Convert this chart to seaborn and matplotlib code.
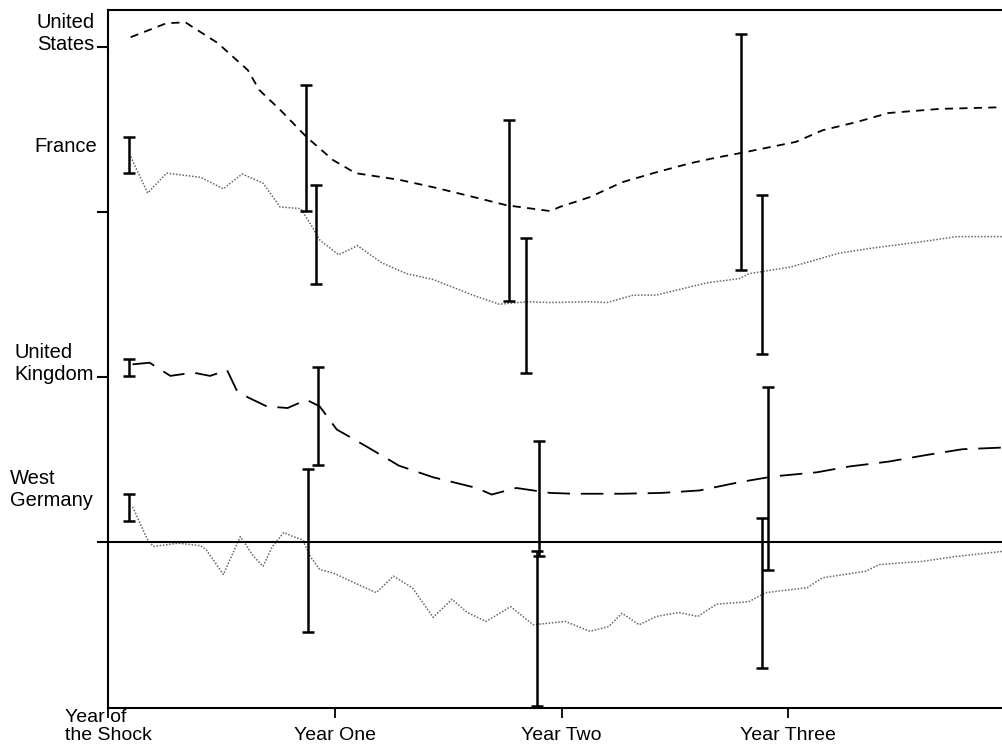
import pandas as pd
import seaborn as sns
import matplotlib
matplotlib.use('Agg')
import matplotlib.pyplot as plt

# months after the shock, deviation from each country's own baseline
us_months = [1.2, 3.1, 4.1, 4.5, 5.8, 7.4, 8.0, 9.1, 10.5, 11.9, 13.1, 15.4, 17.2, 19.0, 21.1,
             23.4, 23.9, 25.5, 27.2, 29.0, 30.8, 32.0, 33.6, 36.4, 37.8, 39.6, 41.3, 44.0, 47.3]
us_values = [0.6, 1.45, 1.5, 1.2, 0.25, -1.4, -2.6, -3.8, -5.45, -6.85, -7.65, -8.05, -8.5, -9.0, -9.6,
             -9.95, -9.7, -9.1, -8.2, -7.6, -7.05, -6.75, -6.4, -5.75, -5.05, -4.55, -4.0, -3.75, -3.65]

fr_months = [1.2, 2.1, 3.1, 4.9, 6.1, 7.1, 8.2, 9.1, 10.2, 10.8, 11.2, 12.2, 13.2, 14.5, 15.8,
             17.2, 19.3, 20.7, 22.2, 23.4, 25.5, 26.4, 27.8, 29.0, 31.7, 33.4, 33.9, 36.1, 38.7,
             40.4, 43.1, 44.9, 47.3]
fr_values = [3.35, 1.15, 2.35, 2.1, 1.4, 2.3, 1.75, 0.3, 0.2, -0.9, -1.7, -2.6, -2.05, -3.1, -3.75,
             -4.1, -5.05, -5.6, -5.45, -5.5, -5.45, -5.5, -5.05, -5.05, -4.3, -4.05, -3.75, -3.35, -2.5,
             -2.2, -1.8, -1.5, -1.5]

uk_months = [1.3, 2.2, 3.3, 4.5, 5.4, 6.3, 6.8, 7.4, 8.4, 9.5, 10.5, 11.2, 12.1, 13.7, 15.4,
             17.2, 19.5, 20.3, 21.6, 23.4, 24.6, 27.2, 29.3, 31.3, 33.4, 35.2, 37.5, 39.2, 41.3,
             43.3, 45.2, 47.3]
uk_values = [0.75, 0.85, 0.05, 0.25, 0.05, 0.4, -0.8, -1.25, -1.8, -1.9, -1.4, -1.8, -3.2, -4.25, -5.4,
             -6.1, -6.75, -7.15, -6.75, -7.05, -7.1, -7.1, -7.05, -6.9, -6.4, -6.05, -5.8, -5.45, -5.15,
             -4.75, -4.4, -4.3]

wg_months = [1.3, 2.1, 2.4, 3.7, 4.9, 5.2, 6.1, 7.0, 7.7, 8.2, 8.7, 9.3, 9.8, 10.3, 10.7,
             11.2, 11.9, 13.5, 14.2, 15.1, 16.1, 17.2, 18.2, 19.0, 20.0, 21.3, 22.5, 24.2, 25.5,
             26.5, 27.2, 28.1, 29.0, 30.2, 31.2, 32.2, 33.9, 34.8, 37.0, 37.8, 40.1, 40.8, 43.1,
             44.9, 47.3]
wg_values = [2.1, 0.1, -0.3, -0.1, -0.25, -0.5, -2.0, 0.3, -0.9, -1.5, -0.3, 0.55, 0.3, 0.1, -0.9,
             -1.7, -1.9, -2.75, -3.1, -2.1, -2.8, -4.6, -3.5, -4.3, -4.85, -3.95, -5.05, -4.85, -5.45,
             -5.15, -4.35, -5.05, -4.55, -4.3, -4.55, -3.8, -3.65, -3.1, -2.8, -2.2, -1.8, -1.4, -1.2,
             -0.9, -0.6]

# error bars: month, low, high
us_bar_months = [10.5, 21.2, 33.5]
us_bar_low = [-9.95, -15.4, -13.5]
us_bar_high = [-2.3, -4.4, 0.8]
fr_bar_months = [1.1, 11.0, 22.1, 34.6]
fr_bar_low = [2.35, -4.4, -9.8, -8.6]
fr_bar_high = [4.55, 1.65, -1.6, 1.05]
uk_bar_months = [1.1, 11.1, 22.8, 34.9]
uk_bar_low = [0.05, -5.35, -10.9, -11.75]
uk_bar_high = [1.05, 0.6, -3.9, -0.6]
wg_bar_months = [1.1, 10.6, 22.7, 34.6]
wg_bar_low = [1.25, -5.5, -10.0, -7.7]
wg_bar_high = [2.9, 4.4, -0.55, 1.4]

countries = ['United States', 'France', 'United Kingdom', 'West Germany']
offsets = [30, 20, 10, 0]
country_labels = ['United\nStates', 'France', 'United\nKingdom', 'West\nGermany']
year_ticks = [0, 12, 24, 36]
year_labels = ['Year of\nthe Shock', 'Year One', 'Year Two', 'Year Three']

sns.set_style('white')
plt.rcParams['font.family'] = ['Liberation Sans', 'DejaVu Sans']
plt.rcParams['text.color'] = 'black'
plt.rcParams['xtick.color'] = 'black'
plt.rcParams['ytick.color'] = 'black'

fig = plt.figure(figsize=(10.02, 7.46), dpi=100)
ax = fig.add_axes([108/1002, 1 - 708/746, 1 - 108/1002, (708 - 10)/746])

series = [(us_months, us_values), (fr_months, fr_values), (uk_months, uk_values), (wg_months, wg_values)]
bars = [(us_bar_months, us_bar_low, us_bar_high), (fr_bar_months, fr_bar_low, fr_bar_high),
        (uk_bar_months, uk_bar_low, uk_bar_high), (wg_bar_months, wg_bar_low, wg_bar_high)]
styles = [dict(color='black', lw=1.3, linestyle=(0, (4.5, 3.5))),
          dict(color='0.4', lw=1.1, linestyle=(0, (1, 1.1))),
          dict(color='black', lw=1.3, linestyle=(0, (12.5, 6))),
          dict(color='0.4', lw=1.1, linestyle=(0, (1, 1.1)))]

for name, off, (m, v), st in zip(countries, offsets, series, styles):
    df = pd.DataFrame({'month': m, 'level': [val + off for val in v]})
    sns.lineplot(data=df, x='month', y='level', ax=ax, estimator=None, **st)

for off, (bm, lo, hi) in zip(offsets, bars):
    centre = [(a + b) / 2 + off for a, b in zip(lo, hi)]
    half = [(b - a) / 2 for a, b in zip(lo, hi)]
    ax.errorbar(bm, centre, yerr=half, fmt='none', ecolor='black', elinewidth=1.8,
                capsize=4.5, capthick=1.8)

ax.axhline(0, color='black', lw=1.5)

ax.set_xlim(0, 47.3)
ax.set_ylim(-10.1, 32.25)
ax.set_xticks(year_ticks)
ax.set_xticklabels(year_labels, fontsize=14)
for lab in ax.get_xticklabels():
    lab.set_verticalalignment('bottom')
    lab.set_multialignment('left')
    lab.set_linespacing(1.05)
ax.tick_params(axis='x', bottom=True, direction='out', length=7, width=1.3, pad=19)
ax.set_yticks(offsets)
ax.set_yticklabels([])
ax.tick_params(axis='y', left=True, direction='out', length=8, width=1.5)
ax.set_xlabel('')
ax.set_ylabel('')

for s in ['left', 'bottom', 'top']:
    ax.spines[s].set_color('black')
    ax.spines[s].set_linewidth(1.5)
ax.spines['right'].set_visible(False)

# country names at left (pixel positions turned into figure fractions)
label_pos = [(37, 34), (34, 147), (14, 364), (10, 490)]
for text, (px, py) in zip(country_labels, label_pos):
    fig.text(px/1002, 1 - py/746, text, ha='left', va='center', fontsize=14.5, linespacing=1.2)

fig.savefig('out.png', dpi=100)
